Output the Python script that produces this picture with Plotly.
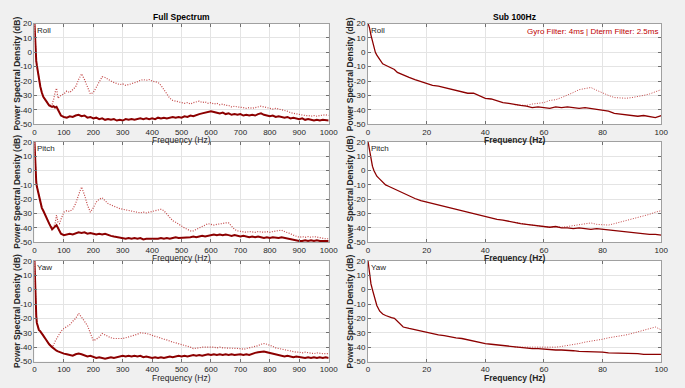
import plotly.graph_objects as go

# ---------------- data ----------------
FREQ_FULL = [0, 2, 4, 6, 8, 10, 15, 20, 25, 30, 40, 50, 60, 65, 70, 75, 80, 85, 90, 100] + list(range(110, 1001, 10))

ROLL_SOLID = [20, 8, -1, -6, -9, -12, -18, -24, -28, -31, -34, -37, -38, -37.5, -38.5, -38, -40, -42, -44, -45,
              -45.5, -44.5, -45, -44, -43.5, -44.5, -44, -45.5, -45, -46, -45.5, -46.5, -46, -47, -46.5, -47, -46.5, -47.5, -47, -47.5,
              -46.5, -47, -46.5, -47, -46.5, -46, -46.5, -46, -46.5, -46, -46.5, -45.5, -46, -45.5, -46, -45.5, -45, -45.5, -45, -45.5,
              -44.5, -45, -44, -44.5, -43.5, -43, -42.5, -42, -41.5, -41, -41.5, -42, -42.5, -42, -43, -42.5, -43.5, -43, -43.5, -43,
              -44, -43.5, -44, -43.5, -44, -43, -42.5, -43.5, -44, -44.5, -44, -45, -44.5, -45, -45.5, -45, -46, -45.5, -46, -46.5,
              -46, -47, -46.5, -47, -47.5, -47, -47.5, -47, -47.5, -47.5]
ROLL_DOT = [20, 8, -1, -6, -9, -12, -18, -24, -28, -31, -34, -37, -36, -33, -28, -25, -32, -31, -30, -29,
            -27, -28, -26, -24, -19, -15, -19, -24, -29, -28, -24, -20, -17, -17.5, -19, -20, -21, -21.5, -22.5, -22,
            -23, -22.5, -22, -21, -20.5, -19.5, -19, -19.5, -19, -20, -20.5, -21, -23, -26, -29, -32, -33.5, -34, -34.5, -35,
            -35.5, -35, -36, -35, -34.5, -34, -35, -34.5, -35.5, -35, -36, -35.5, -36.5, -36, -37, -37, -38, -37.5, -38, -38,
            -38.5, -39, -38.5, -39, -38.5, -38, -37.5, -38, -38.5, -39, -39.5, -39, -39.5, -39.5, -40, -41, -42, -42.5, -43, -43.5,
            -43.5, -44, -44, -44.5, -44, -44.5, -44, -43.5, -43.5, -44]

PITCH_SOLID = [20, 5, -3, -8, -11, -13, -18, -22, -26, -28, -33, -37, -41, -40, -39, -38, -40, -42, -44, -45,
               -44.5, -44, -44.5, -43.5, -43, -43.5, -43, -44, -43.5, -44, -44.5, -44, -44.5, -44, -45, -45.5, -46, -46.5, -46.5, -47,
               -47.5, -47, -47.5, -47, -47.5, -47, -48, -47.5, -47.5, -47.5, -48, -47.5, -47, -47.5, -47, -47.5, -47, -46.5, -47, -47,
               -46.5, -47, -46.5, -46, -46.5, -46, -45.5, -46, -45.5, -45, -44.5, -45, -44.5, -45, -44.5, -45, -45.5, -45, -45.5, -46,
               -45.5, -46, -46.5, -46, -46.5, -46, -46.5, -47, -46.5, -47, -46.5, -47, -47, -46.5, -47, -47.5, -48, -48.5, -48.5, -49,
               -49, -48.5, -49, -48.5, -49, -48.5, -49, -49, -49, -49]
PITCH_DOT = [20, 5, -3, -8, -11, -13, -18, -22, -26, -28, -33, -37, -40, -39, -37, -31, -36, -37, -34, -29,
             -28, -28.5, -27, -23, -17, -11.5, -17, -24, -29, -26, -22, -20, -19, -21, -23, -24, -25, -25.5, -26.5, -27,
             -27.5, -28, -28, -28.5, -29, -29.5, -29, -29.5, -29, -28.5, -28, -27.5, -27, -28, -30.5, -33, -35, -36, -37.5, -38.5,
             -40, -41, -42, -42, -41, -40, -38.5, -37.5, -37, -37.5, -38, -37.5, -37, -37, -36.5, -36.5, -39, -41, -42, -42.5,
             -42.5, -43, -42.5, -43, -43, -42.5, -43, -43, -42.5, -43, -42.5, -42, -42, -41.5, -42.5, -43, -44, -45, -46, -46.5,
             -46, -46.5, -46, -46.5, -46, -46.5, -47, -47, -47.5, -47.5]

YAW_SOLID = [20, 2, -10, -18, -23, -25, -28, -29, -31, -32, -35, -38, -40, -41, -42, -42.5, -43, -43.5, -44, -44.5,
             -45, -45.5, -46, -45, -44.5, -45, -46, -46.5, -46, -47, -47.5, -47, -47.5, -48, -47.5, -47, -47.5, -47, -46.5, -46,
             -46.5, -46, -46.5, -46, -46.5, -46, -47, -46.5, -47, -47.5, -47, -47.5, -47, -47.5, -47, -46.5, -47, -46.5, -46, -46.5,
             -46, -46.5, -46, -45.5, -46, -45.5, -46, -45.5, -45, -45.5, -45, -45.5, -45, -45.5, -45, -45.5, -45, -45.5, -45, -45,
             -45.5, -45, -45.5, -44.5, -44, -43.5, -43, -43, -43.5, -44, -44.5, -45, -45.5, -46, -46.5, -46, -46.5, -47, -46.5, -47,
             -47, -47.5, -47, -47.5, -47, -47.5, -47, -47.5, -47, -47.5]
YAW_DOT = [20, 2, -10, -18, -23, -25, -28, -29, -31, -32, -35, -38, -40, -38.5, -36, -34, -32, -31, -29, -27,
           -25.5, -24.5, -22, -20, -16.5, -19, -22, -25, -30, -35.5, -34.5, -33, -30.5, -31.5, -33, -33.5, -34, -34, -34.5, -34,
           -33.5, -33, -32.5, -31.5, -31, -30, -30, -30.5, -31, -32, -32.5, -33, -34, -34.5, -35, -36, -36.5, -37, -37.5, -38,
           -38.5, -39.5, -40, -41, -41, -40.5, -40, -40, -39.5, -39.5, -40, -40.5, -40, -40.5, -40.5, -41, -41, -40.5, -41, -41,
           -41.5, -41, -41, -40.5, -40, -39, -38, -37.5, -38, -38.5, -39.5, -40.5, -41, -41.5, -42, -42.5, -43, -43, -43.5, -43.5,
           -44, -43.5, -44, -44, -44.5, -44, -44.5, -44.5, -44.5, -44.5]

SUB_FREQ = [0, 0.5, 1, 1.5, 2, 2.5, 3, 4, 5, 6, 7, 8, 9, 10] + list(range(12, 101, 2))
SUB_DOT_FREQ = list(range(50, 101, 2))

ROLL_SUB = [20, 17, 12, 8, 3, 0, -2, -5, -8, -9, -10, -10.5, -12, -14,
            -16, -17.5, -19, -20.5, -22, -23, -23.5, -24.5, -25.5, -26.5, -27, -28.5, -28.5, -30, -32, -32.5, -34, -35, -35.5, -36.5,
            -37, -37.5, -38.5, -38, -38.5, -39, -38, -38.5, -38, -38.5, -39, -38.5, -39, -39.5, -40, -41, -42.5, -43, -43.5, -43.5,
            -44.5, -44, -45, -45.5, -44]
ROLL_SUB_DOT = [-36.5, -37, -37, -36, -35.5, -35, -33.5, -33, -31.5, -30, -28, -26, -25, -24.5, -26.5, -28.5, -30, -31.5, -32, -32,
                -31.5, -31, -30, -29, -27.5, -26]

PITCH_SUB = [20, 14, 8, 3, 0, -2, -4, -6, -8, -10, -11, -12, -13, -14,
             -16, -18, -19.5, -21, -22, -23, -24.5, -25.5, -26, -27.5, -28.5, -29, -30, -31.5, -32, -33, -34, -34.5, -35.5, -36,
             -37, -37.5, -38, -38.5, -39, -39.5, -39, -40, -40, -40.5, -40, -40.5, -41, -40.5, -41, -41.5, -42, -42.5, -43, -43,
             -43.5, -44, -44.5, -44.5, -45]
PITCH_SUB_DOT = [-36, -37, -37.5, -38, -38.5, -39, -39.5, -39, -39.5, -39, -38.5, -38, -37, -36.5, -37.5, -38, -38, -37, -36, -35,
                 -34, -33, -32, -30.5, -29, -28]

YAW_SUB = [20, 10, 4, 0, -4, -8, -11, -15, -17, -18, -19, -19.5, -20, -22,
           -26, -27, -28, -29, -30, -30.5, -31.5, -32, -33, -33.5, -34, -35, -36, -37, -37.5, -38, -38.5, -39, -39.5, -40,
           -40.5, -40.5, -41, -41, -41.5, -41.5, -42, -42, -42, -42.5, -43, -43, -43, -43.5, -43.5, -44, -44, -44, -44.5, -44,
           -44.5, -45, -45, -45.5, -45]
YAW_SUB_DOT = [-40, -40, -40.5, -40.5, -40.5, -40.5, -40, -40, -39.5, -39, -38, -37.5, -36.5, -36, -35, -34.5, -33.5, -33, -32, -31.5,
               -30.5, -29.5, -28, -27, -26, -28]

AXIS_NAMES = ["Roll", "Pitch", "Yaw"]
FULL_XTICKS = list(range(0, 1001, 100))
SUB_XTICKS = list(range(0, 101, 20))
YTICKS = list(range(-50, 21, 10))
YTICK_TEXT = [str(v) for v in YTICKS]

# ---------------- styling ----------------
W, H = 685, 388
SOLID_COLOR = "rgb(140,0,0)"
DOT_COLOR = "rgba(185,40,40,0.85)"
TXT = "#262626"
FONT = "Liberation Sans, Arial, sans-serif"

LEFT = (33, 332)
RIGHT = (372, 670)
ROWS = [(20, 123), (141, 244), (263, 366)]


def fx(x):
    return x / W


def fy(y):
    return 1 - y / H


fig = go.Figure()
layout = dict(
    width=W, height=H, margin=dict(l=0, r=0, t=0, b=0),
    paper_bgcolor="#f0f0f0", plot_bgcolor="white", showlegend=False,
    font=dict(family=FONT, size=8, color=TXT),
)
annotations = []

full_data = [(ROLL_SOLID, ROLL_DOT), (PITCH_SOLID, PITCH_DOT), (YAW_SOLID, YAW_DOT)]
sub_data = [(ROLL_SUB, ROLL_SUB_DOT), (PITCH_SUB, PITCH_SUB_DOT), (YAW_SUB, YAW_SUB_DOT)]

idx = 0
for r, (top, bot) in enumerate(ROWS):
    for c, (l, rr) in enumerate([LEFT, RIGHT]):
        idx += 1
        xa = "x" if idx == 1 else f"x{idx}"
        ya = "y" if idx == 1 else f"y{idx}"
        if c == 0:
            solid, dot = full_data[r]
            fig.add_trace(go.Scatter(x=FREQ_FULL, y=dot, mode="lines", xaxis=xa, yaxis=ya,
                                     line=dict(color=DOT_COLOR, width=1.2, dash="1px,1.5px")))
            fig.add_trace(go.Scatter(x=FREQ_FULL, y=solid, mode="lines", xaxis=xa, yaxis=ya,
                                     line=dict(color=SOLID_COLOR, width=2)))
            xr, xt = [0, 1000], FULL_XTICKS
        else:
            solid, dot = sub_data[r]
            fig.add_trace(go.Scatter(x=SUB_DOT_FREQ, y=dot, mode="lines", xaxis=xa, yaxis=ya,
                                     line=dict(color=DOT_COLOR, width=1, dash="1px,1.5px")))
            fig.add_trace(go.Scatter(x=SUB_FREQ, y=solid, mode="lines", xaxis=xa, yaxis=ya,
                                     line=dict(color=SOLID_COLOR, width=1.3)))
            xr, xt = [0, 100], SUB_XTICKS
        common = dict(showline=True, linecolor="#a0a0a0", linewidth=1, mirror="ticks",
                      ticks="inside", ticklen=3, tickcolor="#707070",
                      showgrid=True, gridcolor="#e4e4e4", gridwidth=1, zeroline=False,
                      tickfont=dict(size=8, color=TXT, family=FONT))
        layout["xaxis" if idx == 1 else f"xaxis{idx}"] = dict(
            domain=[fx(l), fx(rr)], range=xr, tickvals=xt, anchor=ya, **common)
        layout["yaxis" if idx == 1 else f"yaxis{idx}"] = dict(
            domain=[fy(bot), fy(top)], range=[-50, 20], tickvals=YTICKS, ticktext=YTICK_TEXT,
            anchor=xa, **common)
        annotations.append(dict(x=fx(l + 1), y=fy(top), xref="paper", yref="paper", text=AXIS_NAMES[r],
                                showarrow=False, xanchor="left", yanchor="top",
                                font=dict(size=8, color=TXT, family=FONT)))
        annotations.append(dict(x=fx((l + rr) / 2), y=fy(bot + 16.5), xref="paper", yref="paper",
                                text="<b>Frequency (Hz)</b>" if c == 1 else "Frequency (Hz)",
                                showarrow=False, xanchor="center", yanchor="middle",
                                font=dict(size=8.5, color=TXT, family=FONT)))
        annotations.append(dict(x=fx(l - 18), y=fy((top + bot) / 2), xref="paper", yref="paper",
                                text="<b>Power Spectral Density (dB)</b>", textangle=-90,
                                showarrow=False, xanchor="center", yanchor="middle",
                                font=dict(size=8.5, color=TXT, family=FONT)))

annotations.append(dict(x=fx((LEFT[0] + LEFT[1]) / 2), y=fy(13), xref="paper", yref="paper",
                        text="<b>Full Spectrum</b>", showarrow=False, xanchor="center", yanchor="middle",
                        font=dict(size=8.5, color="#000", family=FONT)))
annotations.append(dict(x=fx((RIGHT[0] + RIGHT[1]) / 2), y=fy(13), xref="paper", yref="paper",
                        text="<b>Sub 100Hz</b>", showarrow=False, xanchor="center", yanchor="middle",
                        font=dict(size=8.5, color="#000", family=FONT)))
annotations.append(dict(x=fx(RIGHT[1] - 1), y=fy(ROWS[0][0] + 2), xref="paper", yref="paper",
                        text="Gyro Filter: 4ms | Dterm Filter: 2.5ms", showarrow=False,
                        xanchor="right", yanchor="top",
                        font=dict(size=8, color="rgb(190,0,0)", family=FONT)))

layout["annotations"] = annotations
fig.update_layout(**layout)
fig.write_html("out.html", config={"displayModeBar": False},
               post_script="document.body.style.margin='0';document.body.style.background='#f0f0f0';")
